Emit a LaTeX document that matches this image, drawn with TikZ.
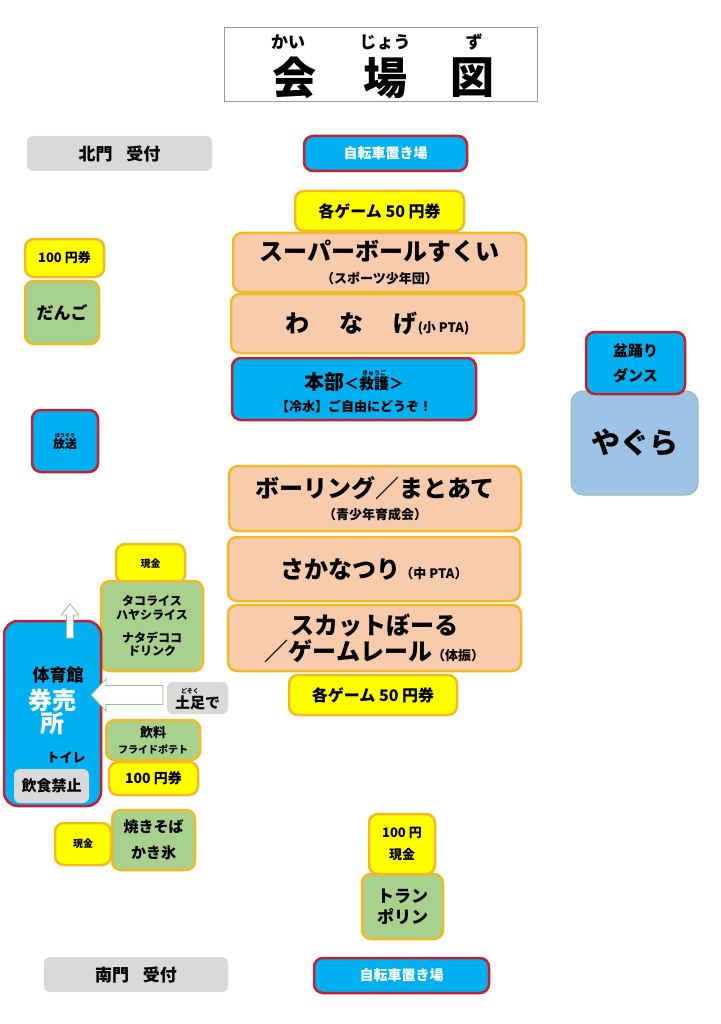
\documentclass[tikz,border=0pt]{standalone}
\usepackage{fontspec}
\setmainfont{Noto Sans CJK JP}
\definecolor{skyblue}{RGB}{0,176,240}
\definecolor{infored}{RGB}{200,30,50}
\definecolor{tktyellow}{RGB}{255,255,0}
\definecolor{tktedge}{RGB}{240,185,40}
\definecolor{stallpeach}{RGB}{248,203,173}
\definecolor{foodgreen}{RGB}{169,209,142}
\definecolor{gategray}{RGB}{217,217,217}
\definecolor{yagurablue}{RGB}{157,195,230}
\definecolor{yaguraedge}{RGB}{150,190,140}
\newcommand{\fs}[1]{\fontsize{#1}{#1}\selectfont}
\newcommand{\furi}[3][6]{\begin{tabular}[b]{@{}c@{}}\fs{#1}#3\\[-3pt]#2\end{tabular}}
\begin{document}
\begin{tikzpicture}[x=1pt,y=-1pt,
  box/.style={draw, rounded corners=9pt, line width=2.5pt, font=\bfseries, align=center, inner sep=0pt},
  sz/.style 2 args={minimum width=#1pt, minimum height=#2pt},
  ticket/.style={box, fill=tktyellow, draw=tktedge},
  stall/.style={box, fill=stallpeach, draw=tktedge},
  food/.style={box, fill=foodgreen, draw=tktedge},
  info/.style={box, fill=skyblue, draw=infored},
  gate/.style={box, fill=gategray, draw=none, rounded corners=6pt},
  plain/.style={inner sep=0pt, font=\bfseries, align=center},
  blockarrow/.style={draw=yaguraedge, fill=white, line width=0.8pt, line join=miter}]
\useasboundingbox[fill=white] (0,0) rectangle (720,1024);

% title
\node[draw=gray!80, line width=1pt, fill=white, sz={313}{74}] (title) at (380.5,65) {};
\node[plain, font=\bfseries\fs{44}] (kai) at (294,78) {会};
\node[plain, font=\bfseries\fs{44}] (jou) at (385,78) {場};
\node[plain, font=\bfseries\fs{44}] (zu) at (472,78) {図};
\node[plain, font=\bfseries\fs{17}] (kairuby) at (288,42) {かい};
\node[plain, font=\bfseries\fs{17}] (jouruby) at (385,42) {じょう};
\node[plain, font=\bfseries\fs{17}] (zuruby) at (474,42) {ず};

% north side
\node[gate, sz={185}{35}, font=\bfseries\fs{17}] (kitamon) at (119.5,153.5) {北門\hspace{14pt}受付};
\node[info, sz={163}{35}, font=\bfseries\fs{14}, text=white] (biken) at (385.5,153.5) {自転車置き場};

% game booths
\node[ticket, sz={169}{40}, font=\bfseries\fs{16}] (gameticketn) at (379.5,211) {各ゲーム 50 円券};
\node[stall, sz={293}{59}] (superball) at (379.5,262.5) {{\fs{24}スーパーボールすくい}\\[8pt]{\fs{13}（スポーツ少年団）}};
\node[stall, sz={293}{59}, font=\bfseries\fs{24}] (wanage) at (377.5,323.5) {わ\hspace{30pt}な\hspace{30pt}げ{\fs{13}(小 PTA)}};
\node[info, sz={244}{62}] (honbu) at (354,389) {{\fs{20}本部}{\fs{15}＜\furi{救護}{きゅうご}＞}\\[5pt]{\fs{13}【冷水】ご自由にどうぞ！}};
\node[stall, sz={292}{65}] (bowling) at (375,498.5) {{\fs{24}ボーリング／まとあて}\\[7pt]{\fs{13}（青少年育成会）}};
\node[stall, sz={292}{64}, font=\bfseries\fs{24}] (sakana) at (374,569) {さかなつり{\fs{13}（中 PTA）}};
\node[stall, sz={293}{66}, font=\bfseries\fs{24}] (scat) at (374.5,638) {スカットぼーる\\[2pt]／ゲームレール{\fs{13}（体振）}};
\node[ticket, sz={168}{40}, font=\bfseries\fs{16}] (gametickets) at (373,695) {各ゲーム 50 円券};

% left column
\node[ticket, sz={79}{38}, font=\bfseries\fs{13}] (dangoticket) at (64.5,258) {100 円券};
\node[food, sz={74}{63}, font=\bfseries\fs{17}] (dango) at (62,312.5) {だんご};
\node[info, sz={66}{62}, font=\bfseries\fs{12}] (housou) at (65,441) {\furi[5]{放送}{ほうそう}};

\node[ticket, sz={69}{39}, font=\bfseries\fs{10}] (cashtaco) at (150.5,563.5) {現金};
\node[food, sz={102}{90}, font=\bfseries\fs{12}] (taco) at (152,626) {タコライス\\[1.5pt]ハヤシライス\\[11pt]ナタデココ\\[1.5pt]ドリンク};

\node[info, sz={97}{185}, rounded corners=14pt] (gym) at (52.5,713.5) {};
\node[plain, font=\bfseries\fs{17}] (gymname) at (58,675) {体育館};
\node[plain, font=\bfseries\fs{24}, text=white] (ken) at (52,700) {券売};
\node[plain, font=\bfseries\fs{24}, text=white] (sho) at (52,724) {所};
\node[plain, font=\bfseries\fs{13}] (toilet) at (66,757) {トイレ};
\node[gate, sz={75}{34}, font=\bfseries\fs{15}] (nofood) at (51.5,786) {飲食禁止};

% block arrows
\coordinate (uptip) at (70,604);
\coordinate (lefttip) at (91,695);
\draw[blockarrow] (uptip) -- ++(9,11) -- ++(-5.5,0) -- ++(0,23) -- ++(-7,0) -- ++(0,-23) -- ++(-5.5,0) -- cycle;
\draw[blockarrow] (lefttip) -- ++(15,-16) -- ++(0,6.5) -- ++(57,0) -- ++(0,19) -- ++(-57,0) -- ++(0,6.5) -- cycle;
\node[gate, sz={61}{32}, font=\bfseries\fs{15}] (dosoku) at (197.5,698) {\furi[6]{土足}{どそく}で};

\node[food, sz={94}{40}] (drink) at (153,740) {{\fs{13}飲料}\\[4pt]{\fs{10}フライドポテト}};
\node[ticket, sz={89}{33}, font=\bfseries\fs{14}] (ticketdrink) at (153.5,778.5) {100 円券};

\node[ticket, sz={56}{42}, font=\bfseries\fs{10}] (cashsoba) at (83,844) {現金};
\node[food, sz={83}{60}, font=\bfseries\fs{15}] (yakisoba) at (153.5,840) {焼きそば\\[11pt]かき氷};

% trampoline
\node[food, sz={81}{65}, font=\bfseries\fs{17}] (tramp) at (402.5,906.5) {トラン\\[4pt]ポリン};
\node[ticket, sz={66}{60}, font=\bfseries\fs{13}] (tramticket) at (402,844) {100 円\\[9pt]現金};

% right side
\node[box, fill=yagurablue, draw=yaguraedge, line width=1pt, rounded corners=12pt, sz={127}{104}, font=\bfseries\fs{29}] (yagura) at (634.5,443) {やぐら};
\node[info, sz={99}{62}, font=\bfseries\fs{15}] (bonodori) at (635.5,363) {盆踊り\\[10pt]ダンス};

% south side
\node[gate, sz={184}{35}, font=\bfseries\fs{17}] (minamimon) at (136,974.5) {南門\hspace{14pt}受付};
\node[info, sz={175}{35}, font=\bfseries\fs{14}, text=white] (bikes) at (401.5,975.5) {自転車置き場};
\end{tikzpicture}
\end{document}
